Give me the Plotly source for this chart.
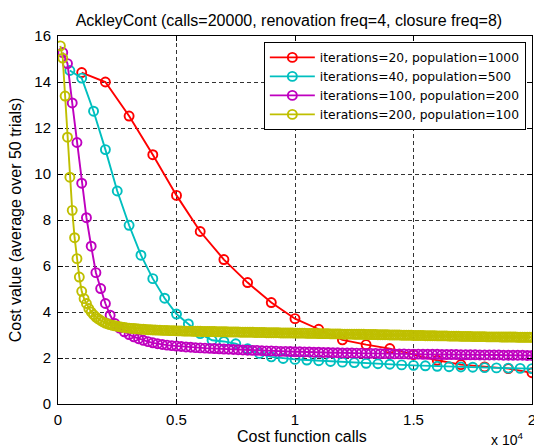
import plotly.graph_objects as go

# ---------------- data ----------------
red_x = [1000 * i for i in range(1, 21)]
red_y = [14.41, 14.00, 12.52, 10.84, 9.07, 7.50, 6.28, 5.28, 4.41, 3.71,
         3.25, 2.79, 2.58, 2.41, 2.15, 1.90, 1.71, 1.61, 1.54, 1.36]

cyan_x = [500 * i for i in range(1, 41)]
cyan_y = [14.50, 14.17, 12.73, 11.06, 9.26, 7.77, 6.47, 5.45, 4.60, 3.91,
          3.48, 3.06, 2.77, 2.72, 2.62, 2.40, 2.20, 2.05, 1.98, 1.94,
          1.91, 1.88, 1.85, 1.82, 1.80, 1.77, 1.75, 1.73, 1.70, 1.68,
          1.66, 1.64, 1.62, 1.61, 1.60, 1.58, 1.57, 1.56, 1.55, 1.54]

mag_x = [200 * i for i in range(1, 101)]
mag_y = [15.28, 14.80, 13.09, 11.37, 9.60, 8.10, 6.86, 5.71, 5.02, 4.37,
         3.86, 3.50, 3.30, 3.14, 3.02, 2.92, 2.84, 2.77, 2.71, 2.66,
         2.62, 2.59, 2.56, 2.54, 2.52, 2.50, 2.48, 2.47, 2.45, 2.44,
         2.43, 2.42, 2.41, 2.40, 2.39, 2.38, 2.37, 2.36, 2.35, 2.34,
         2.33, 2.33, 2.32, 2.31, 2.31, 2.30, 2.29, 2.29, 2.28, 2.27,
         2.27, 2.26, 2.26, 2.25, 2.25, 2.24, 2.24, 2.23, 2.23, 2.22,
         2.22, 2.22, 2.21, 2.21, 2.20, 2.20, 2.20, 2.19, 2.19, 2.19,
         2.18, 2.18, 2.18, 2.17, 2.17, 2.17, 2.16, 2.16, 2.16, 2.16,
         2.15, 2.15, 2.15, 2.15, 2.14, 2.14, 2.14, 2.14, 2.13, 2.13,
         2.13, 2.13, 2.13, 2.12, 2.12, 2.12, 2.12, 2.12, 2.11, 2.11]

yel_x = [100 * i for i in range(1, 201)]
yel_y = [15.57, 15.04, 13.39, 11.60, 9.86, 8.42, 7.23, 6.32, 5.52, 4.90,
         4.58, 4.37, 4.15, 4.00, 3.88, 3.78, 3.70, 3.63, 3.57, 3.52,
         3.48, 3.45, 3.42, 3.40, 3.38, 3.36, 3.34, 3.33, 3.31, 3.30,
         3.29, 3.28, 3.27, 3.26, 3.25, 3.25, 3.24, 3.23, 3.23, 3.22,
         3.22, 3.21, 3.21, 3.20, 3.20, 3.20, 3.19, 3.19, 3.19, 3.18,
         3.18, 3.18, 3.17, 3.17, 3.17, 3.17, 3.16, 3.16, 3.16, 3.16,
         3.15, 3.15, 3.15, 3.15, 3.15, 3.15, 3.14, 3.14, 3.14, 3.14,
         3.14, 3.13, 3.13, 3.13, 3.13, 3.13, 3.12, 3.12, 3.12, 3.12,
         3.12, 3.12, 3.11, 3.11, 3.11, 3.11, 3.11, 3.10, 3.10, 3.10,
         3.10, 3.10, 3.10, 3.09, 3.09, 3.09, 3.09, 3.09, 3.09, 3.08,
         3.08, 3.08, 3.08, 3.08, 3.07, 3.07, 3.07, 3.07, 3.07, 3.06,
         3.06, 3.06, 3.06, 3.06, 3.05, 3.05, 3.05, 3.05, 3.05, 3.04,
         3.04, 3.04, 3.04, 3.04, 3.03, 3.03, 3.03, 3.03, 3.03, 3.02,
         3.02, 3.02, 3.02, 3.02, 3.01, 3.01, 3.01, 3.01, 3.01, 3.00,
         3.00, 3.00, 3.00, 3.00, 2.99, 2.99, 2.99, 2.99, 2.99, 2.98,
         2.98, 2.98, 2.98, 2.98, 2.97, 2.97, 2.97, 2.97, 2.97, 2.96,
         2.96, 2.96, 2.96, 2.96, 2.95, 2.95, 2.95, 2.95, 2.95, 2.94,
         2.94, 2.94, 2.94, 2.94, 2.93, 2.93, 2.93, 2.93, 2.93, 2.93,
         2.92, 2.92, 2.92, 2.92, 2.92, 2.92, 2.91, 2.91, 2.91, 2.91,
         2.91, 2.91, 2.91, 2.90, 2.90, 2.90, 2.90, 2.90, 2.90, 2.90]

names = ["iterations=20, population=1000",
         "iterations=40, population=500",
         "iterations=100, population=200",
         "iterations=200, population=100"]
colors = ["#FF0000", "#00BFBF", "#BF00BF", "#BFBF00"]

x_tickvals = [0, 5000, 10000, 15000, 20000]
x_ticktext = ["0", "0.5", "1", "1.5", "2"]
y_tickvals = [0, 2, 4, 6, 8, 10, 12, 14, 16]

FONT = "Liberation Sans, Arial, Helvetica, sans-serif"
LEGEND_FONT = "DejaVu Sans, sans-serif"

fig = go.Figure()
for xs, ys, nm, c in zip([red_x, cyan_x, mag_x, yel_x],
                         [red_y, cyan_y, mag_y, yel_y], names, colors):
    fig.add_trace(go.Scatter(
        x=xs, y=ys, name=nm, mode="lines+markers",
        line=dict(color=c, width=1.9),
        marker=dict(symbol="circle-open", size=9, color=c,
                    line=dict(color=c, width=1.9)),
    ))

axis_common = dict(
    showline=True, linecolor="black", linewidth=1, mirror="ticks",
    ticks="inside", ticklen=5, tickcolor="black", tickwidth=1,
    showgrid=True, gridcolor="#333333", gridwidth=1, griddash="4px,3px",
    zeroline=False, automargin=False, ticklabeloverflow="allow",
    tickfont=dict(family=FONT, size=15, color="black"),
)

fig.update_xaxes(range=[0, 20000], tickvals=x_tickvals, ticktext=x_ticktext,
                 ticklabelstandoff=2, **axis_common)
fig.update_yaxes(range=[0, 16], tickvals=y_tickvals, ticklabelstandoff=3,
                 title=dict(text="Cost value (average over 50 trials)", standoff=8,
                            font=dict(family=FONT, size=16, color="black")),
                 **axis_common)

fig.update_layout(
    width=534, height=447,
    margin=dict(l=58, r=2, t=36, b=43),
    paper_bgcolor="white", plot_bgcolor="white",
    title=dict(text="AckleyCont (calls=20000, renovation freq=4, closure freq=8)",
               x=0.541, xanchor="center", y=0.955, yanchor="middle",
               font=dict(family=FONT, size=16, color="black")),
    legend=dict(x=0.987, y=0.984, xanchor="right", yanchor="top",
                bgcolor="white", bordercolor="black", borderwidth=1,
                font=dict(family=LEGEND_FONT, size=12.3, color="black"),
                itemwidth=45, tracegroupgap=0),
    showlegend=True,
    annotations=[
        dict(text="Cost function calls", xref="paper", yref="paper",
             x=0.515, y=-0.088, xanchor="center", yanchor="middle",
             showarrow=False, font=dict(family=FONT, size=16, color="black")),
        dict(text="x 10<sup>4</sup>", xref="paper", yref="paper",
             x=0.985, y=-0.095, xanchor="right", yanchor="middle",
             showarrow=False, font=dict(family=FONT, size=14, color="black")),
    ],
)

fig.write_html("out.html", config={"displayModeBar": False},
               post_script="document.body.style.margin='0px';")
